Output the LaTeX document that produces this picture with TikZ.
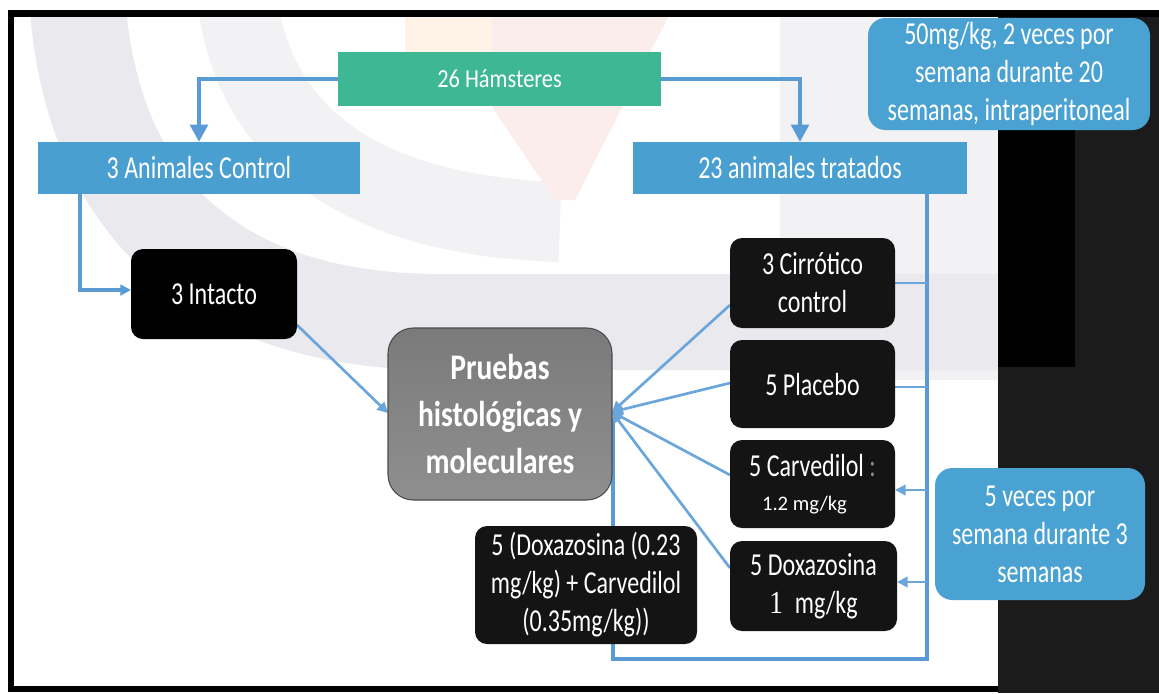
\documentclass[tikz,border=0pt]{standalone}
\usepackage{fontspec}
\setmainfont{Carlito}[FakeStretch=0.75]
\newfontfamily\plainfont{Carlito}
\newfontfamily\hamfont{Carlito}[FakeStretch=0.86]
\newfontfamily\pbfont{Carlito}[FakeStretch=0.82]
\newfontfamily\seriffont{Liberation Serif}[FakeStretch=0.85]
\usetikzlibrary{arrows.meta}
\pgfdeclarelayer{wm}
\pgfdeclarelayer{conn}
\pgfsetlayers{wm,conn,main}
\definecolor{lineblue}{HTML}{5B9BD5}
\definecolor{thinblue}{HTML}{6AA6DC}
\definecolor{hamgreen}{HTML}{3DB794}
\definecolor{barblue}{HTML}{4A9FD1}
\definecolor{infoblue}{HTML}{4AA2D2}
\definecolor{boxblack}{HTML}{141414}
\definecolor{wmgray}{HTML}{EAEAEE}
\definecolor{wmlight}{HTML}{F2F2F4}
\definecolor{wmpink}{HTML}{FCEDED}
\definecolor{wmorange}{HTML}{FEF3E6}
\definecolor{darkpanel}{HTML}{1B1B1B}
\tikzset{
  txt/.style={font=\fontsize{24}{28.5}\selectfont},
  bluebar/.style={fill=barblue, text=white, inner sep=0pt, outer sep=0pt, txt},
  blackbox/.style={fill=boxblack, rounded corners=9pt, text=white, align=center, inner sep=0pt, outer sep=0pt, txt},
  infobox/.style={fill=infoblue, rounded corners=13pt, text=white, align=center, inner sep=0pt, outer sep=0pt, txt},
  thickconn/.style={draw=lineblue, line width=3.5pt},
  thinconn/.style={draw=thinblue, line width=2pt},
  branchconn/.style={draw=thinblue, line width=1.6pt},
  bigtip/.style={-{Triangle[length=13pt,width=13pt]}},
  smalltip/.style={-{Triangle[length=8pt,width=8pt]}}
}
\begin{document}
\begin{tikzpicture}[x=0.75pt,y=-0.75pt]
\useasboundingbox (0,0) rectangle (1159,693);
\begin{pgfonlayer}{wm}
\fill[white] (0,0) rectangle (1159,693);
% faint watermark
\begin{scope}
\clip (14,17) rectangle (998,686);
\fill[wmlight] (780,17) rectangle (998,380);
\draw[line width=60pt, draw=wmlight] (235,-40) .. controls (235,110) and (330,215) .. (560,222);
\draw[line width=72pt, draw=wmgray] (76,-40) .. controls (76,210) and (220,322) .. (440,322) -- (998,322);
\fill[wmorange] (405,17) rectangle (492,56);
\fill[wmpink] (492,17) -- (668,17) -- (575,200) -- (555,200) -- (492,107) -- cycle;
\end{scope}
% frame and dark panel
\fill[darkpanel] (998,10) rectangle (1159,693);
\fill[black] (998,130) rectangle (1075,367);
\fill[black] (8,10) rectangle (1159,17);
\fill[black] (8,10) rectangle (14,692);
\fill[black] (8,686) rectangle (998,692);
\end{pgfonlayer}
% nodes
\node[bluebar, fill=hamgreen, minimum width=242.25pt, minimum height=40.5pt, font=\hamfont\fontsize{19.5}{24}\selectfont] (ham) at (499.5,79) {26 Hámsteres};
\node[bluebar, minimum width=241.5pt, minimum height=39pt] (ctrl) at (199,168) {3 Animales Control};
\node[bluebar, minimum width=250.5pt, minimum height=39pt] (trat) at (800,168) {23 animales tratados};
\node[infobox, minimum width=211.5pt, minimum height=84pt] (dose1) at (1009,74) {50mg/kg, 2 veces por\\semana durante 20\\semanas, intraperitoneal};
\node[blackbox, fill=black, minimum width=124.5pt, minimum height=67.5pt] (intacto) at (214,294) {3 Intacto};
\node[draw=black!70, line width=0.8pt, rounded corners=19pt, top color=black!52, bottom color=black!44, text=white, align=center, inner sep=0pt, outer sep=0pt, minimum width=168pt, minimum height=129pt, font=\pbfont\bfseries\fontsize{27}{35.5}\selectfont] (pruebas) at (500,414) {Pruebas\\histológicas y\\moleculares};
\node[blackbox, minimum width=123.75pt, minimum height=67.5pt] (cirr) at (812.5,283) {3 Cirrótico\\control};
\node[blackbox, minimum width=123.75pt, minimum height=66pt] (plac) at (812.5,384) {5 Placebo};
\node[blackbox, minimum width=123.75pt, minimum height=66pt] (carv) at (812.5,484) {5 Carvedilol {\color{black!45}:}\\[-3pt]{\plainfont\fontsize{15.5}{18}\selectfont 1.2 mg/kg\hspace*{12pt}}};
\node[blackbox, minimum width=125.25pt, minimum height=67.5pt] (doxa) at (813.5,586) {5 Doxazosina\\{\seriffont 1}\hspace{9pt}mg/kg};
\node[blackbox, minimum width=166.5pt, minimum height=88.5pt] (combo) at (586,585) {5 (Doxazosina (0.23\\mg/kg) + Carvedilol\\(0.35mg/kg))};
\node[infobox, minimum width=157.5pt, minimum height=99pt] (dose2) at (1040,534) {5 veces por\\semana durante 3\\semanas};
% coordinates
\coordinate (xL) at (80,0);
\coordinate (xT) at (927,0);
\coordinate (br) at (927,659);
\coordinate (bl) at (613,659);
\coordinate (conv) at ([yshift=1.5pt]pruebas.east);
% connectors
\begin{pgfonlayer}{conn}
\draw[thickconn, bigtip] (ham.west) -| (ctrl.north);
\draw[thickconn, bigtip] (ham.east) -| (trat.north);
\draw[thickconn, smalltip] (ctrl.south -| xL) |- ([yshift=3pt]intacto.west);
\draw[thickconn] (trat.south -| xT) -- (br) -- (bl) -- ([yshift=-3pt]bl |- pruebas.east);
\draw[branchconn] (xT |- cirr.east) -- (cirr.east);
\draw[branchconn] ([yshift=-2pt]xT |- plac.east) -- ([yshift=-2pt]plac.east);
\draw[branchconn, smalltip] ([yshift=-4.5pt]xT |- carv.east) -- ([yshift=-4.5pt]carv.east);
\draw[branchconn, smalltip] ([yshift=3pt]xT |- doxa.east) -- ([yshift=3pt]doxa.east);
\draw[thinconn, smalltip] ([yshift=-16.5pt]cirr.west) -- (conv);
\draw[thinconn, smalltip] ([yshift=0.75pt]plac.west) -- (conv);
\draw[thinconn, smalltip] ([yshift=6.75pt]carv.west) -- (conv);
\draw[thinconn, smalltip] ([yshift=13.5pt]doxa.west) -- (conv);
\draw[thinconn, smalltip] ([yshift=10.5pt]intacto.south east) -- ([yshift=0.75pt]pruebas.west);
\end{pgfonlayer}
\end{tikzpicture}
\end{document}
